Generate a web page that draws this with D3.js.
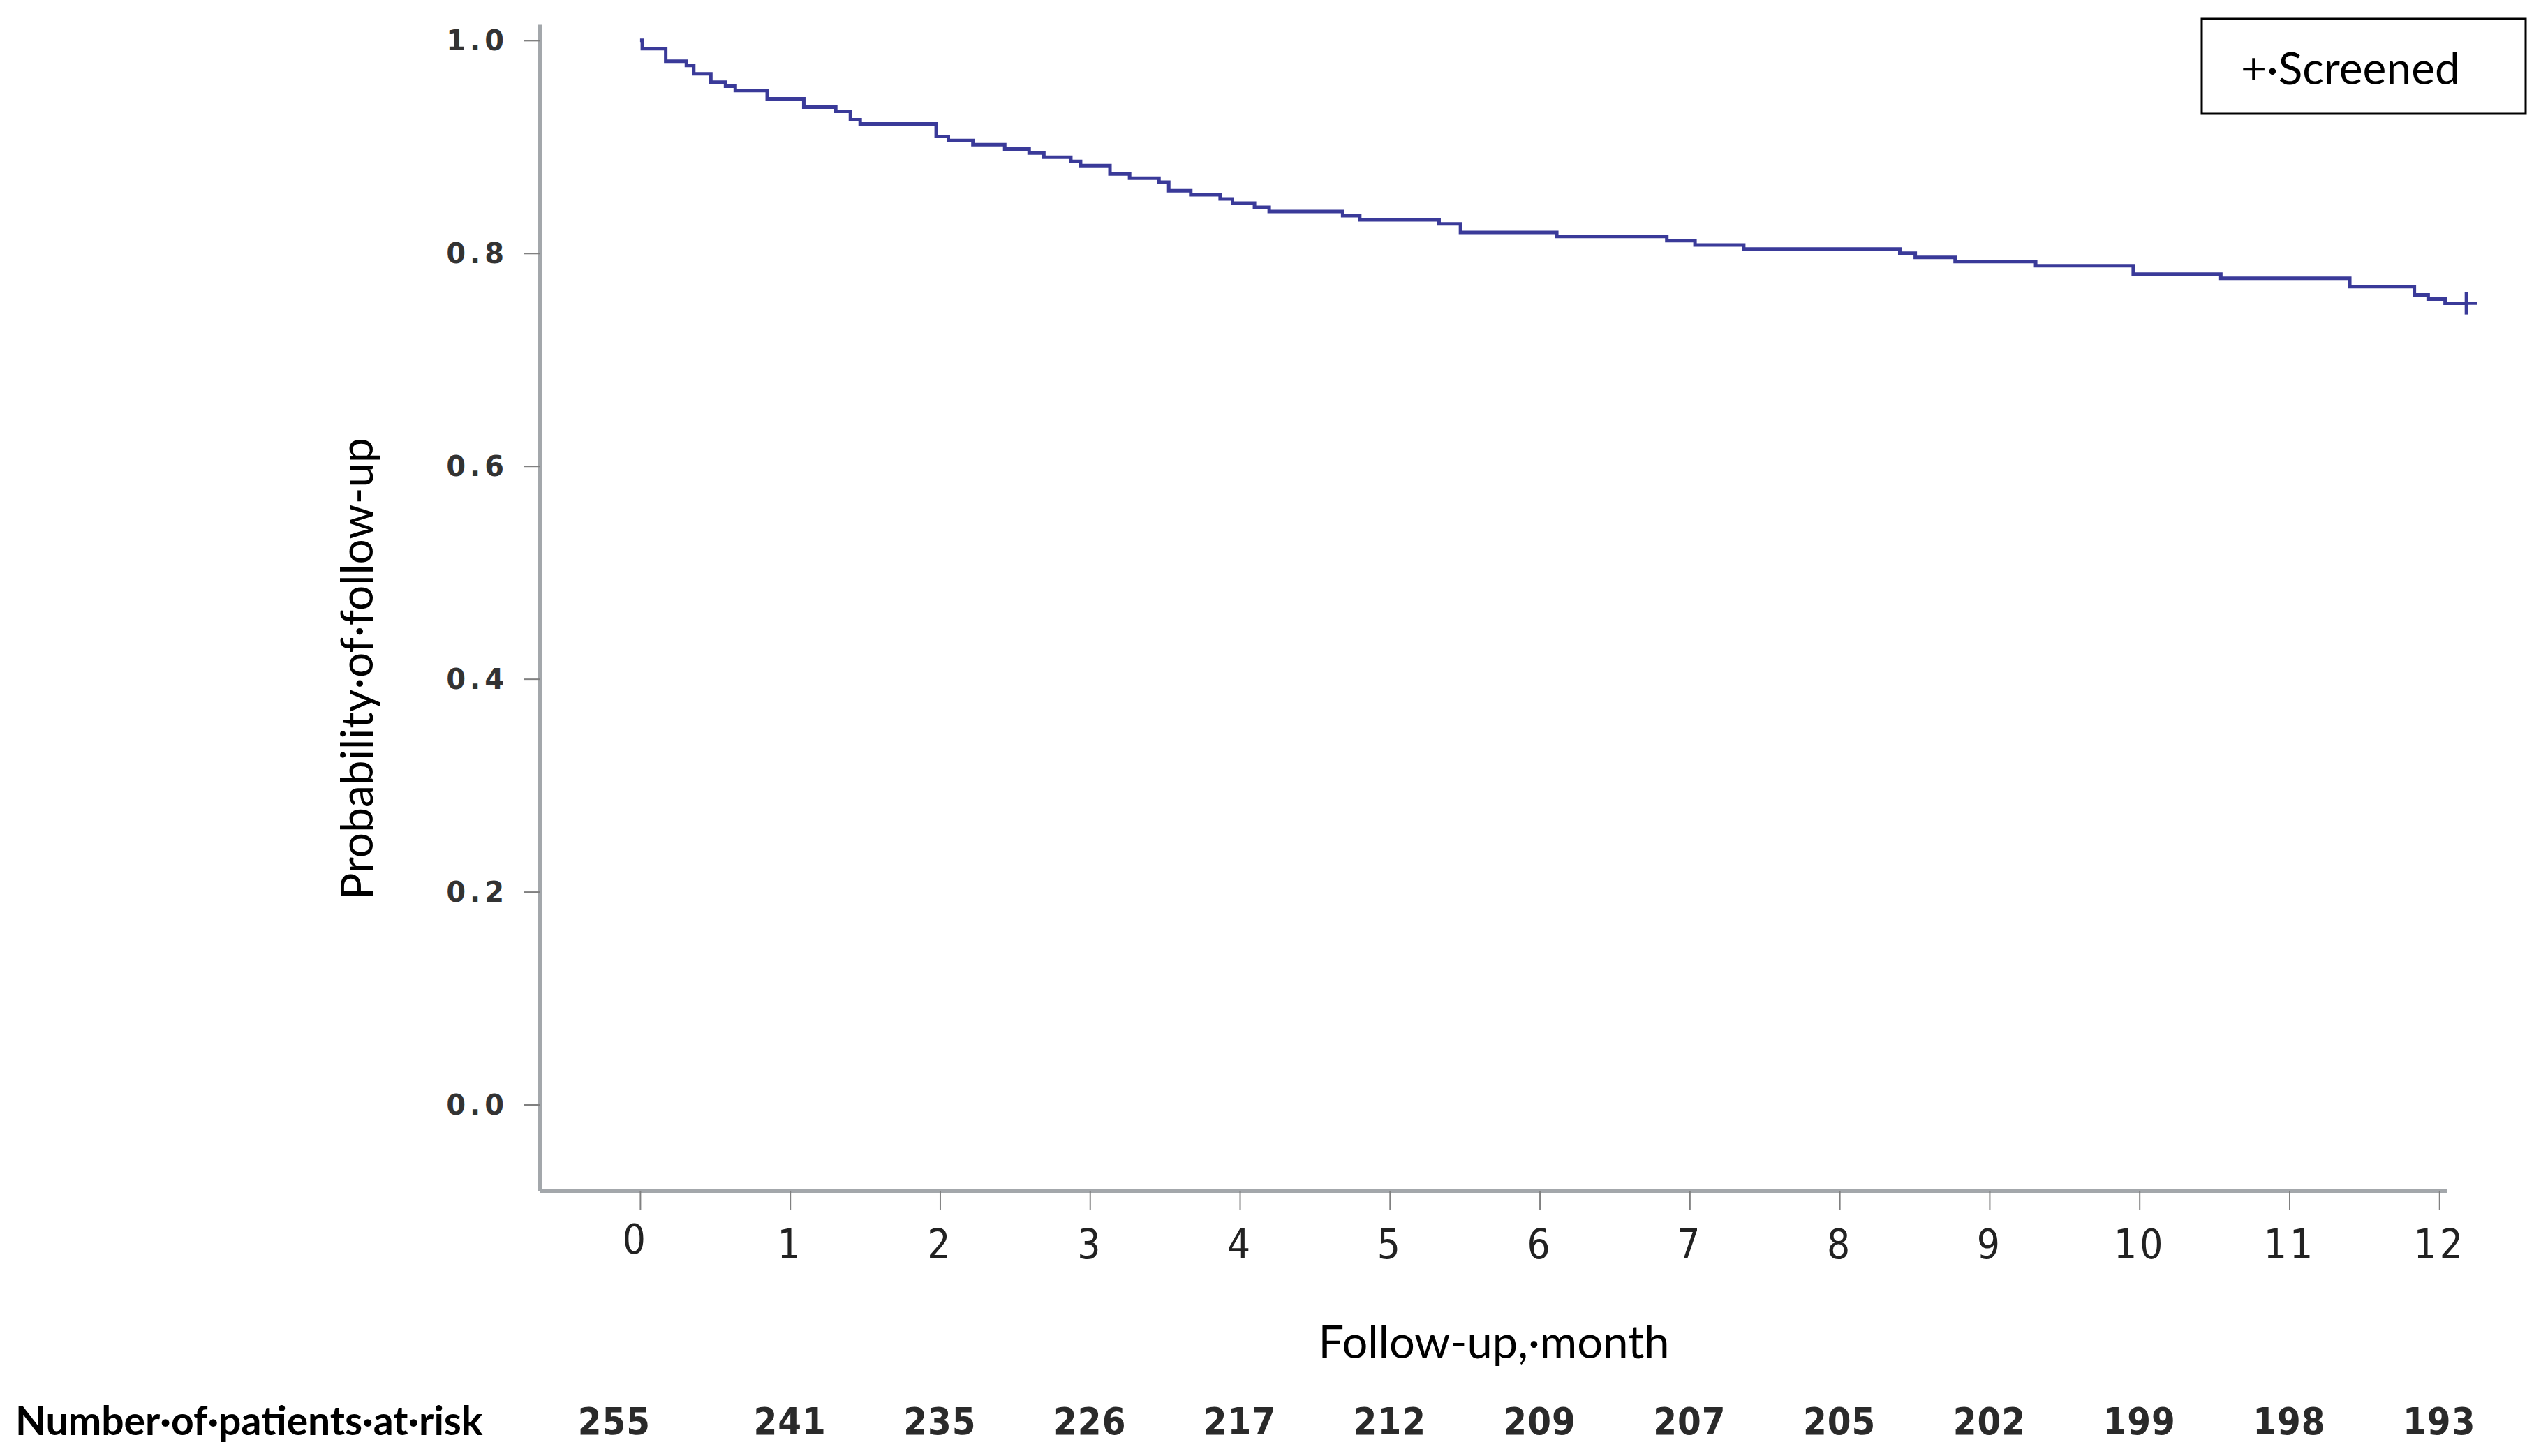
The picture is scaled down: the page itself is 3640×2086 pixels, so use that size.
<!DOCTYPE html>
<html>
<head>
<meta charset="utf-8">
<script src="https://cdn.jsdelivr.net/npm/d3@7"></script>
<style>
  html, body { margin: 0; padding: 0; background: #ffffff; }
  svg { display: block; }
</style>
</head>
<body>
<svg id="chart" width="3640" height="2086"></svg>
<script>
// ---------------- data ----------------
const months = [0, 1, 2, 3, 4, 5, 6, 7, 8, 9, 10, 11, 12];
const atRisk = [255, 241, 235, 226, 217, 212, 209, 207, 205, 202, 199, 198, 193];
const yTicks = [0.0, 0.2, 0.4, 0.6, 0.8, 1.0];
const eventTimes = [0, 0.015, 0.171, 0.309, 0.358, 0.472, 0.570, 0.635, 0.848, 1.092, 1.305, 1.403, 1.468,
  1.975, 2.056, 2.220, 2.432, 2.595, 2.693, 2.873, 2.938, 3.134, 3.265, 3.461, 3.526, 3.673, 3.869, 3.951,
  4.098, 4.196, 4.686, 4.800, 5.329, 5.472, 6.114, 6.848, 7.036, 7.361, 8.402, 8.505, 8.771, 9.308, 9.959,
  10.543, 11.403, 11.834, 11.926, 12.039];
const survival = [1.0, 0.9922, 0.9804, 0.9765, 0.9686, 0.9608, 0.9569, 0.9529, 0.9451, 0.9373, 0.9333, 0.9255, 0.9216,
  0.9098, 0.9059, 0.9020, 0.8980, 0.8941, 0.8902, 0.8863, 0.8824, 0.8745, 0.8706, 0.8667, 0.8588, 0.8549, 0.8510, 0.8471,
  0.8431, 0.8392, 0.8353, 0.8314, 0.8275, 0.8196, 0.8157, 0.8118, 0.8078, 0.8039, 0.8000, 0.7961, 0.7922, 0.7882, 0.7804,
  0.7765, 0.7686, 0.7608, 0.7569, 0.7529];
const censorTimes = [12.18];
const censorValues = [0.7529];
const seriesName = "+·Screened";
const xTitle = "Follow-up,·month";
const yTitle = "Probability·of·follow-up";
const riskTitle = "Number·of·patients·at·risk";

// ---------------- layout ----------------
const svg = d3.select("#chart");
const x = d3.scaleLinear().domain([-0.67, 12.05]).range([773, 3505]);
const y = d3.scaleLinear().domain([-0.081, 1.015]).range([1706, 35]);

const axisColor = "#a3a7ab";
const tickColor = "#808080";
const curveColor = "#3a3a99";

// y axis
const yAxis = svg.append("g")
  .attr("transform", `translate(${x.range()[0]},0)`)
  .call(d3.axisLeft(y).tickValues(yTicks).tickSize(23).tickSizeOuter(0).tickPadding(22).tickFormat(d3.format(".1f")));
yAxis.select(".domain").attr("stroke", axisColor).attr("stroke-width", 5);
yAxis.selectAll(".tick line").attr("stroke", tickColor).attr("stroke-width", 2);
yAxis.selectAll(".tick text")
  .attr("font-family", "'DejaVu Sans', sans-serif")
  .attr("font-weight", "bold")
  .attr("font-size", 40)
  .attr("letter-spacing", 6)
  .attr("fill", "#333")
  .attr("dy", "0.35em");

// x axis
const xAxis = svg.append("g")
  .attr("transform", `translate(0,${y.range()[0]})`)
  .call(d3.axisBottom(x).tickValues(months).tickSize(28).tickSizeOuter(0).tickFormat(d3.format("d")));
xAxis.select(".domain").attr("stroke", axisColor).attr("stroke-width", 5);
xAxis.selectAll(".tick line").attr("stroke", tickColor).attr("stroke-width", 2);
xAxis.selectAll(".tick text")
  .attr("font-family", "'Liberation Sans Narrow', 'DejaVu Sans Condensed', sans-serif")
  .attr("font-size", 58)
  .attr("letter-spacing", 4)
  .attr("fill", "#222")
  .attr("x", (d, i) => i === 0 ? -7 : 0)
  .attr("y", (d, i) => i === 0 ? 70 : 77)
  .attr("dy", "0.35em");

// survival curve
const pts = eventTimes.map((t, i) => [t, survival[i]]);
pts.push([censorTimes[0], censorValues[0]]);
const line = d3.line().x(d => x(d[0])).y(d => y(d[1])).curve(d3.curveStepAfter);
svg.append("path")
  .datum(pts)
  .attr("d", line)
  .attr("fill", "none")
  .attr("stroke", curveColor)
  .attr("stroke-width", 5);

// censor marks
const cs = 16;
const cg = svg.append("g").attr("stroke", curveColor).attr("stroke-width", 4.5);
censorTimes.forEach((t, i) => {
  const cx = x(t), cy = y(censorValues[i]);
  cg.append("line").attr("x1", cx - cs).attr("x2", cx + cs).attr("y1", cy).attr("y2", cy);
  cg.append("line").attr("x1", cx).attr("x2", cx).attr("y1", cy - cs).attr("y2", cy + cs);
});

// axis titles
svg.append("text")
  .attr("x", 2140).attr("y", 1946)
  .attr("text-anchor", "middle")
  .attr("font-family", "Lato, sans-serif")
  .attr("font-size", 65)
  .attr("fill", "#000")
  .text(xTitle);

svg.append("text")
  .attr("transform", `translate(534,${958}) rotate(-90)`)
  .attr("text-anchor", "middle")
  .attr("font-family", "Lato, sans-serif")
  .attr("font-size", 64)
  .attr("fill", "#000")
  .text(yTitle);

// at risk table
svg.append("text")
  .attr("x", 22).attr("y", 2056)
  .attr("font-family", "Lato, sans-serif")
  .attr("font-weight", "bold")
  .attr("font-size", 57)
  .attr("fill", "#000")
  .text(riskTitle);

svg.append("g").selectAll("text")
  .data(months)
  .join("text")
  .attr("x", (d, i) => x(d) + (i === 0 ? -37 : 0))
  .attr("y", 2036)
  .attr("dy", "0.35em")
  .attr("text-anchor", "middle")
  .attr("font-family", "'Liberation Sans Narrow', 'DejaVu Sans Condensed', sans-serif")
  .attr("font-weight", "bold")
  .attr("font-size", 54)
  .attr("letter-spacing", 1)
  .attr("fill", "#2a2a2a")
  .text((d, i) => atRisk[i]);

// legend
const lg = svg.append("g");
lg.append("rect")
  .attr("x", 3154).attr("y", 27).attr("width", 464).attr("height", 136)
  .attr("fill", "#fff").attr("stroke", "#000").attr("stroke-width", 3);
lg.append("text")
  .attr("x", 3210).attr("y", 121)
  .attr("font-family", "Lato, sans-serif")
  .attr("font-size", 64)
  .attr("fill", "#000")
  .text(seriesName);
</script>
</body>
</html>
